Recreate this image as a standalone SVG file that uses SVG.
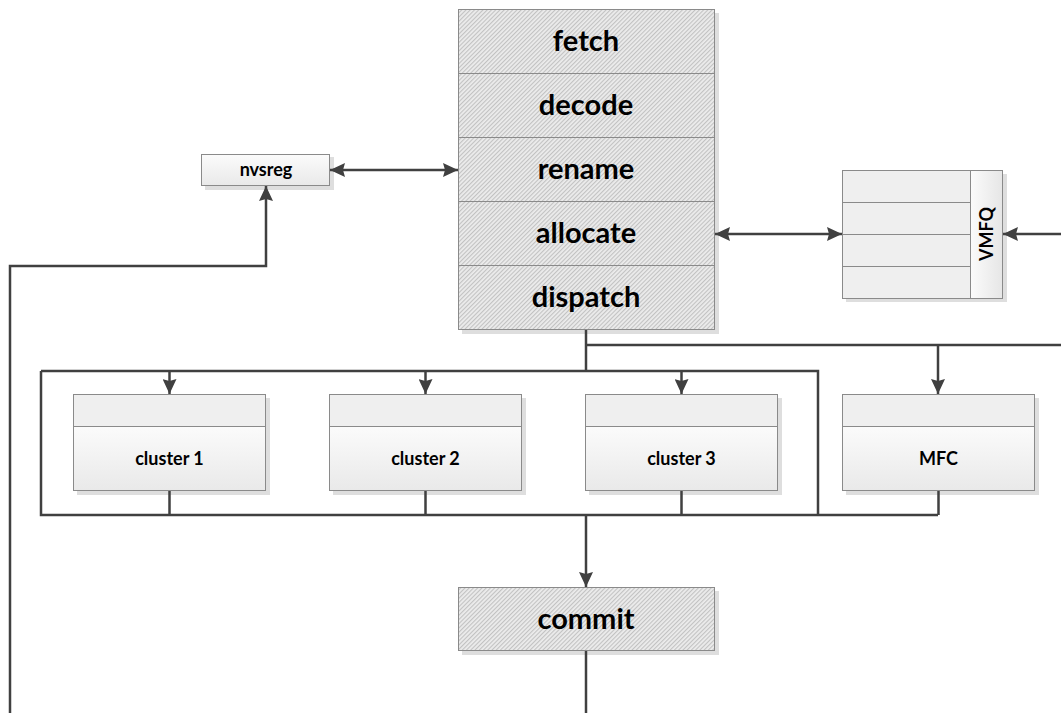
<svg xmlns="http://www.w3.org/2000/svg" width="1061" height="713" viewBox="0 0 1061 713">
  <defs>
    <pattern id="hatch" width="3" height="3" patternUnits="userSpaceOnUse" patternTransform="rotate(45)">
      <rect width="3" height="3" fill="#ececec"/>
      <rect width="1.1" height="3" fill="#c2c2c2"/>
    </pattern>
    <linearGradient id="bodyGrad" x1="0" y1="0" x2="0" y2="1">
      <stop offset="0" stop-color="#fbfbfb"/>
      <stop offset="1" stop-color="#e9e9e9"/>
    </linearGradient>
    <linearGradient id="tabGrad" x1="0" y1="0" x2="1" y2="0">
      <stop offset="0" stop-color="#fbfbfb"/>
      <stop offset="1" stop-color="#e6e6e6"/>
    </linearGradient>
    <marker id="arr" viewBox="0 0 15 14" refX="15" refY="7" markerWidth="15" markerHeight="14" markerUnits="userSpaceOnUse" orient="auto-start-reverse">
      <path d="M0,0 L15,7 L0,14 L2,7 z" fill="#404040"/>
    </marker>
  </defs>
  <style>
    .shadow { fill: #dedede; }
    .box { stroke: #8a8a8a; stroke-width: 1; }
    .hatch { fill: url(#hatch); }
    .head { fill: #efefef; }
    .body { fill: url(#bodyGrad); }
    .big { font-family: Lato, "Open Sans", sans-serif; font-weight: bold; font-size: 29px; fill: #000; text-anchor: middle; }
    .small { font-family: Lato, "Open Sans", sans-serif; font-weight: bold; font-size: 18px; fill: #000; text-anchor: middle; }
    .wire { fill: none; stroke: #404040; stroke-width: 2.5; }
    .arrow { marker-end: url(#arr); }
    .both { marker-start: url(#arr); marker-end: url(#arr); }
  </style>
  <rect width="1061" height="713" fill="#ffffff"/>

  <!-- front-end pipeline stages -->
  <g id="pipeline">
    <rect class="shadow" x="462" y="13" width="257" height="321"/>
    <rect class="box hatch" x="458.5" y="9.5" width="256" height="320"/>
    <line class="box" x1="458.5" y1="73.5" x2="714.5" y2="73.5"/>
    <line class="box" x1="458.5" y1="137.5" x2="714.5" y2="137.5"/>
    <line class="box" x1="458.5" y1="201.5" x2="714.5" y2="201.5"/>
    <line class="box" x1="458.5" y1="265.5" x2="714.5" y2="265.5"/>
    <text class="big" x="586" y="51">fetch</text>
    <text class="big" x="586" y="115">decode</text>
    <text class="big" x="586" y="179">rename</text>
    <text class="big" x="586" y="243">allocate</text>
    <text class="big" x="586" y="307">dispatch</text>
  </g>

  <g id="nvsreg">
    <rect class="shadow" x="205" y="157" width="129" height="33"/>
    <rect class="box" x="201.5" y="154.5" width="128" height="31" fill="url(#bodyGrad)"/>
    <text class="small" x="266" y="176">nvsreg</text>
  </g>

  <g id="vmfq">
    <rect class="shadow" x="846" y="174" width="161" height="128"/>
    <rect class="box head" x="842.5" y="170.5" width="128" height="128"/>
    <line class="box" x1="842.5" y1="202.5" x2="970.5" y2="202.5"/>
    <line class="box" x1="842.5" y1="234.5" x2="970.5" y2="234.5"/>
    <line class="box" x1="842.5" y1="266.5" x2="970.5" y2="266.5"/>
    <rect class="box" x="970.5" y="170.5" width="32" height="128" fill="url(#tabGrad)"/>
    <text class="small" transform="translate(993 234) rotate(-90)">VMFQ</text>
  </g>

  <g id="cluster1">
    <rect class="shadow" x="77" y="398" width="193" height="97"/>
    <rect class="box head" x="73.5" y="394.5" width="192" height="32"/>
    <rect class="box body" x="73.5" y="426.5" width="192" height="64"/>
    <text class="small" x="169.5" y="465">cluster 1</text>
  </g>

  <g id="cluster2">
    <rect class="shadow" x="333" y="398" width="193" height="97"/>
    <rect class="box head" x="329.5" y="394.5" width="192" height="32"/>
    <rect class="box body" x="329.5" y="426.5" width="192" height="64"/>
    <text class="small" x="425.5" y="465">cluster 2</text>
  </g>

  <g id="cluster3">
    <rect class="shadow" x="589" y="398" width="193" height="97"/>
    <rect class="box head" x="585.5" y="394.5" width="192" height="32"/>
    <rect class="box body" x="585.5" y="426.5" width="192" height="64"/>
    <text class="small" x="681.5" y="465">cluster 3</text>
  </g>

  <g id="mfc">
    <rect class="shadow" x="846" y="398" width="193" height="97"/>
    <rect class="box head" x="842.5" y="394.5" width="192" height="32"/>
    <rect class="box body" x="842.5" y="426.5" width="192" height="64"/>
    <text class="small" x="938.5" y="465">MFC</text>
  </g>

  <g id="commit">
    <rect class="shadow" x="462" y="591" width="257" height="64"/>
    <rect class="box hatch" x="458.5" y="587.5" width="256" height="63"/>
    <text class="big" x="586" y="629">commit</text>
  </g>

  <g id="connectors">
    <!-- rename <-> nvsreg -->
    <line class="wire both" x1="330" y1="170" x2="458" y2="170"/>
    <!-- retirement feedback to nvsreg -->
    <path class="wire arrow" d="M10,713 V266 H266 V186"/>
    <!-- allocate <-> VMFQ -->
    <line class="wire both" x1="715" y1="234" x2="842" y2="234"/>
    <line class="wire arrow" x1="1061" y1="234" x2="1003" y2="234"/>
    <!-- dispatch bus -->
    <path class="wire" d="M586,330 V371"/>
    <path class="wire" d="M586,345 H1061"/>
    <line class="wire arrow" x1="938" y1="345" x2="938" y2="394"/>
    <!-- cluster frame -->
    <path class="wire" d="M41,371 H818 V515 M41,371 V515 H938"/>
    <line class="wire arrow" x1="169.5" y1="371" x2="169.5" y2="394"/>
    <line class="wire arrow" x1="425.5" y1="371" x2="425.5" y2="394"/>
    <line class="wire arrow" x1="681.5" y1="371" x2="681.5" y2="394"/>
    <!-- results to frame bottom -->
    <path class="wire" d="M169.5,491 V515 M425.5,491 V515 M681.5,491 V515 M938.5,491 V515"/>
    <!-- to commit and beyond -->
    <line class="wire arrow" x1="586" y1="515" x2="586" y2="587"/>
    <line class="wire" x1="586" y1="651" x2="586" y2="713"/>
  </g>
</svg>
